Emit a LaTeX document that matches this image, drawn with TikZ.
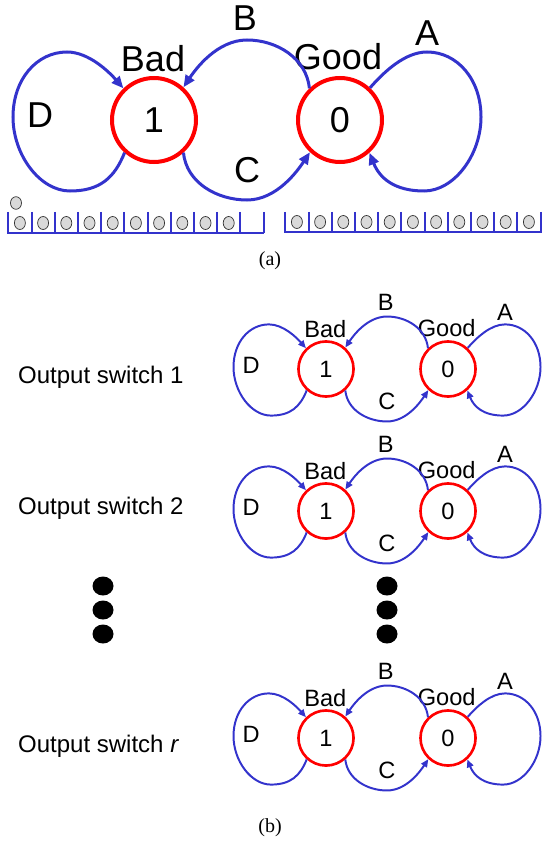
\documentclass[tikz,border=0pt]{standalone}
\usepackage{fontspec}
\setmainfont{Liberation Sans}
\newfontfamily\capfont{Liberation Serif}
\usetikzlibrary{arrows.meta}
\definecolor{lineblue}{RGB}{51,51,204}
\definecolor{statered}{RGB}{255,0,0}
\definecolor{ballgray}{RGB}{217,217,217}
\tikzset{
  statenode/.style={circle, draw=statered, inner sep=0pt},
  lbl/.style={inner sep=0pt, text=black},
  queueline/.style={draw=lineblue, line width=2pt},
  queuebase/.style={draw=lineblue, line width=2.6pt},
  ball/.style={draw=black!80, fill=ballgray, line width=0.7pt},
  bigdot/.style={fill=black},
  captext/.style={inner sep=0pt, font=\capfont\fontsize{20}{20}\selectfont},
  swtext/.style={inner sep=0pt, anchor=west, font=\fontsize{24}{24}\selectfont},
}
\newcommand{\stategraph}[4]{%
  \pgfmathsetmacro{\sgfs}{36*#4}%
  \pgfmathsetmacro{\sglw}{4*#4}%
  \pgfmathsetmacro{\sgbw}{3*#4}%
  \pgfmathsetmacro{\sgsz}{84*#4}%
  \pgfmathsetmacro{\sgtl}{12*#4}%
  \pgfmathsetmacro{\sgtw}{10*#4}%
  \begin{scope}[shift={(#2,#3)}, x=#4pt, y=-#4pt,
      every node/.append style={font=\fontsize{\sgfs}{\sgfs}\selectfont},
      arr/.style={draw=lineblue, line width=\sgbw pt,
        -{Triangle[length=\sgtl pt, width=\sgtw pt]}}]
    \node[statenode, line width=\sglw pt, minimum size=\sgsz pt] (#1one) at (0,0) {1};
    \node[statenode, line width=\sglw pt, minimum size=\sgsz pt] (#1zero) at (186,0) {0};
    \node[lbl] (#1bad) at (-1,-61) {Bad};
    \node[lbl] (#1good) at (184,-63) {Good};
    \node[lbl] (#1B) at (91,-102) {B};
    \node[lbl] (#1A) at (273,-87) {A};
    \node[lbl] (#1D) at (-114,-5) {D};
    \node[lbl] (#1C) at (93,50) {C};
    % D loop
    \draw[arr] (#1one.228) .. controls +(-10,25) and +(30,0) .. (-84,71)
      .. controls +(-30,0) and +(0,38) .. (-141,-3)
      .. controls +(0,-38) and +(-30,0) .. (-87,-68)
      .. controls +(22,0) and +(-14,-16) .. (#1one.134);
    % B arc
    \draw[arr] (#1zero.134) .. controls +(-3,-30) and +(30,0) .. (93,-80)
      .. controls +(-30,0) and +(12,-18) .. (#1one.48);
    % C arc
    \draw[arr] (#1one.312) .. controls +(3,30) and +(-30,0) .. (93,80)
      .. controls +(30,0) and +(-12,18) .. (#1zero.227);
    % A loop
    \draw[arr] (#1zero.47) .. controls +(14,-16) and +(-22,0) .. (273,-68)
      .. controls +(30,0) and +(0,-38) .. (327,-3)
      .. controls +(0,38) and +(30,0) .. (270,71)
      .. controls +(-30,0) and +(10,25) .. (#1zero.312);
  \end{scope}}
\begin{document}
\begin{tikzpicture}[x=1pt,y=-1pt]
\useasboundingbox (0,0) rectangle (544,842);
% ---------- (a)
\stategraph{a}{154}{120}{1}
% left queue
\draw[queuebase] (7,233) -- (263.5,233);
\foreach \i in {0,...,11} \draw[queueline] (8.3+23.2*\i,212) -- (8.3+23.2*\i,233);
\foreach \i in {0,...,9} \draw[ball] (19.9+23.2*\i,223) ellipse [x radius=5.5, y radius=6.5];
\draw[ball] (16,203) ellipse [x radius=5.5, y radius=6.3];
% right queue
\draw[queuebase] (284,232) -- (541.5,232);
\foreach \i in {0,...,11} \draw[queueline] (285.3+23.2*\i,212) -- (285.3+23.2*\i,232);
\foreach \i in {0,...,10} \draw[ball] (296.9+23.2*\i,222) ellipse [x radius=5.5, y radius=6.5];
\node[captext] (capa) at (270,261) {(a)};
% ---------- (b)
\stategraph{p}{326}{369}{0.656}
\stategraph{q}{326}{511}{0.656}
\stategraph{r}{326}{738}{0.656}
\node[swtext] (sw1) at (18,377) {Output switch 1};
\node[swtext] (sw2) at (18,508) {Output switch 2};
\node[swtext] (swr) at (18,746) {Output switch \textit{r}};
\foreach \yy in {586,610,634} {
  \fill[bigdot] (103,\yy) ellipse [x radius=10.5, y radius=9.5];
  \fill[bigdot] (387,\yy) ellipse [x radius=10.5, y radius=9.5];
}
\node[captext] (capb) at (270,828) {(b)};
\end{tikzpicture}
\end{document}
